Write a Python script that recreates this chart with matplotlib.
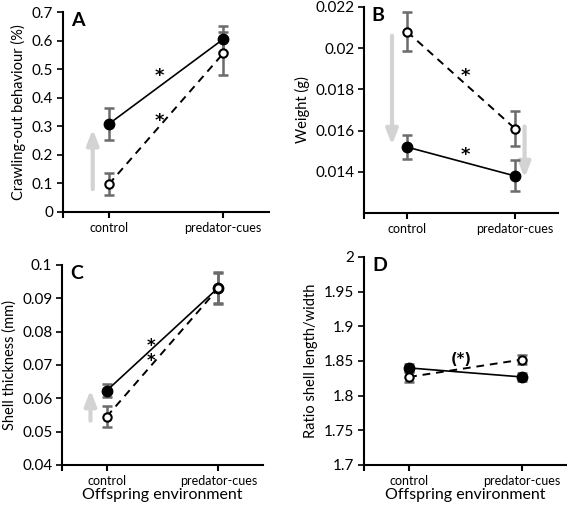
import matplotlib.pyplot as plt
import numpy as np

plt.rcParams['font.family'] = ['Lato', 'DejaVu Sans']

categories = ['control', 'predator-cues']
xpos = np.array([1, 2])

# A: crawling-out behaviour
a_filled = [0.308, 0.605]
a_filled_err = [0.057, 0.045]
a_open = [0.097, 0.555]
a_open_err = [0.039, 0.075]

# B: weight
b_filled = [0.0152, 0.0138]
b_filled_err = [0.0006, 0.00075]
b_open = [0.0208, 0.0161]
b_open_err = [0.00095, 0.00085]

# C: shell thickness
c_filled = [0.0623, 0.0932]
c_filled_err = [0.0019, 0.0045]
c_open = [0.0545, 0.0930]
c_open_err = [0.0031, 0.0048]

# D: ratio length/width
d_filled = [1.840, 1.827]
d_filled_err = [0.006, 0.006]
d_open = [1.827, 1.852]
d_open_err = [0.007, 0.006]

W, H = 567, 505
fig = plt.figure(figsize=(W / 100, H / 100), dpi=100)


def make_ax(l, r, t, b):
    return fig.add_axes([l / W, 1 - b / H, (r - l) / W, (b - t) / H])


axA = make_ax(63, 269, 12, 212)
axB = make_ax(364, 558, 7, 213)
axC = make_ax(62, 263, 265, 465)
axD = make_ax(364, 567, 257, 465)

ecol = '#6b6b6b'


def draw(ax, filled, ferr, opened, oerr, ylim, yticks, yfmt, ylabel, letter, xlabel=False):
    ax.errorbar(xpos, filled, yerr=ferr, fmt='none', ecolor=ecol, elinewidth=1.8,
                capsize=3.5, capthick=1.8, zorder=2)
    ax.errorbar(xpos, opened, yerr=oerr, fmt='none', ecolor=ecol, elinewidth=1.8,
                capsize=3.5, capthick=1.8, zorder=2)
    ax.plot(xpos, filled, '-', color='black', lw=1.2, zorder=3)
    ax.plot(xpos, opened, '--', color='black', lw=1.4, dashes=(4, 3), zorder=3)
    ax.plot(xpos, filled, 'o', color='black', ms=7.5, zorder=4)
    ax.plot(xpos, opened, 'o', mfc='white', mec='black', mew=1.5, ms=6, zorder=4)
    ax.set_xlim(0.6, 2.4)
    ax.set_ylim(*ylim)
    ax.set_yticks(yticks)
    ax.set_yticklabels([yfmt(v) for v in yticks], fontsize=11)
    ax.set_xticks(xpos)
    ax.set_xticklabels(categories, fontsize=9)
    ax.set_xticks([0.6], minor=True)
    ax.tick_params(axis='x', which='both', direction='out', length=4, width=1.5, pad=3)
    ax.tick_params(axis='y', direction='out', length=4, width=1.2, pad=3)
    for s in ['top', 'right']:
        ax.spines[s].set_visible(False)
    for s in ['left', 'bottom']:
        ax.spines[s].set_linewidth(1.5)
    ax.set_ylabel(ylabel, fontsize=10.5)
    ax.text(0.04, 1.0, letter, transform=ax.transAxes, fontsize=14, fontweight='bold',
            va='top', ha='left')
    if xlabel:
        ax.set_xlabel('Offspring environment', fontsize=11.5, labelpad=1)


def arrow(ax, x, y0, y1):
    ax.annotate('', xy=(x, y1), xytext=(x, y0),
                arrowprops=dict(arrowstyle='-|>,head_width=0.35,head_length=0.9',
                                lw=3, color='#d3d3d3', shrinkA=0, shrinkB=0), zorder=1)


def fmt_g(v):
    return '0' if v == 0 else ('%g' % round(v, 4))


draw(axA, a_filled, a_filled_err, a_open, a_open_err, (0, 0.7),
     np.arange(0, 0.71, 0.1), fmt_g, 'Crawling-out behaviour (%)', 'A')
draw(axB, b_filled, b_filled_err, b_open, b_open_err, (0.012, 0.022),
     [0.014, 0.016, 0.018, 0.02, 0.022], fmt_g, 'Weight (g)', 'B')
draw(axC, c_filled, c_filled_err, c_open, c_open_err, (0.04, 0.1),
     np.arange(0.04, 0.101, 0.01), fmt_g, 'Shell thickness (mm)', 'C', xlabel=True)
draw(axD, d_filled, d_filled_err, d_open, d_open_err, (1.7, 2.0),
     np.arange(1.7, 2.001, 0.05), fmt_g, 'Ratio shell length/width', 'D', xlabel=True)

arrow(axA, 0.86, 0.08, 0.29)
arrow(axB, 0.86, 0.0206, 0.0153)
arrow(axB, 2.09, 0.0162, 0.0137)
arrow(axC, 0.855, 0.0533, 0.0625)

star = dict(fontsize=13, fontweight='bold', ha='center', va='baseline',
            family='DejaVu Sans')
# asterisk glyph sits high, so baseline is set below the target centre
axA.text(1.44, 0.49 - 0.03, '*', **star)
axA.text(1.44, 0.33 - 0.03, '*', **star)
axB.text(1.54, 0.01885 - 0.00043, '*', **star)
axB.text(1.54, 0.0150 - 0.00043, '*', **star)
star_c = dict(star, fontsize=12)
axC.text(1.40, 0.0766 - 0.0024, '*', **star_c)
axC.text(1.40, 0.0720 - 0.0024, '*', **star_c)
axD.text(1.46, 1.852, '(*)', fontsize=10.5, fontweight='bold', ha='center', va='center',
         family='DejaVu Sans')

fig.savefig('out.png', dpi=100)
